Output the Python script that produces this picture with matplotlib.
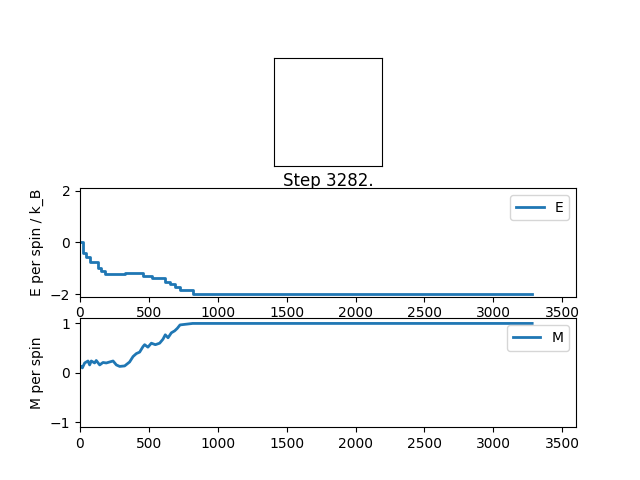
import matplotlib
matplotlib.use('Agg')
import matplotlib.pyplot as plt

# step at which value changes, and value from that step on
e_steps = [0, 22, 46, 70, 130, 155, 179, 330, 460, 525, 620, 655, 690, 726, 818, 3282]
e_vals = [0.0, -0.41, -0.55, -0.76, -1.0, -1.1, -1.23, -1.17, -1.3, -1.39, -1.52, -1.62, -1.71, -1.84, -2.0, -2.0]

m_steps = [0, 10, 17, 34, 58, 70, 82, 106, 118, 143, 167, 191, 215, 240, 264, 288, 324,
           360, 385, 409, 433, 457, 469, 493, 518, 547, 578, 602, 619, 639, 663, 687,
           706, 726, 818, 3282]
m_vals = [0.12, 0.13, 0.1, 0.2, 0.24, 0.16, 0.24, 0.2, 0.25, 0.16, 0.21, 0.2, 0.22, 0.24,
          0.16, 0.13, 0.14, 0.22, 0.33, 0.39, 0.42, 0.53, 0.57, 0.52, 0.6, 0.57, 0.6,
          0.68, 0.77, 0.71, 0.81, 0.85, 0.9, 0.97, 1.0, 1.0]

last_step = 3282

fig, axes = plt.subplots(3, 1, figsize=(6.4, 4.8), dpi=100)

# lattice panel (blank)
ax0 = axes[0]
ax0.set_xlim(0, 1)
ax0.set_ylim(0, 1)
ax0.set_aspect('equal')
ax0.set_xticks([])
ax0.set_yticks([])
ax0.set_xlabel(f'Step {last_step}.', fontsize=12)

ax1 = axes[1]
ax1.plot(e_steps, e_vals, drawstyle='steps-post', lw=2, label='E')
ax1.set_xlim(0, 3600)
ax1.set_ylim(-2.1, 2.1)
ax1.set_ylabel('E per spin / k_B')
ax1.legend(loc='upper right')

ax2 = axes[2]
ax2.plot(m_steps, m_vals, lw=2, label='M')
ax2.set_xlim(0, 3600)
ax2.set_ylim(-1.1, 1.1)
ax2.set_ylabel('M per spin')
ax2.legend(loc='upper right')

plt.savefig('out.png', dpi=100)
plt.close()
